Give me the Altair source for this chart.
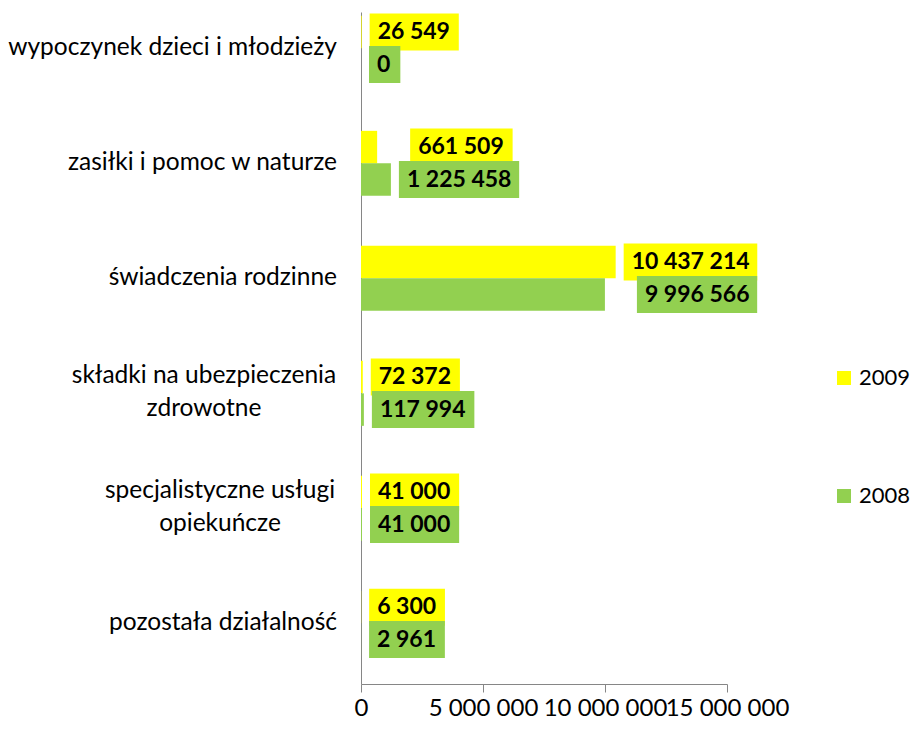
import altair as alt
import pandas as pd

categories = [
    "wypoczynek dzieci i młodzieży",
    "zasiłki i pomoc w naturze",
    "świadczenia rodzinne",
    "składki na ubezpieczenia\nzdrowotne",
    "specjalistyczne usługi\nopiekuńcze",
    "pozostała działalność",
]
years = ["2009", "2008"]
values_2009 = [26549, 661509, 10437214, 72372, 41000, 6300]
values_2008 = [0, 1225458, 9996566, 117994, 41000, 2961]
colors = ["#FFFF00", "#92D050"]

# layout constants
W, H = 366, 672
XMAX = 15_000_000
UPP = XMAX / W          # data units per pixel
FS = 23                 # data label font size
CFS = 24.5              # category font size
LABEL_OFF = {("zasiłki i pomoc w naturze", "2009"): 33,
             ("świadczenia rodzinne", "2008"): 32}
DEFAULT_OFF = 8
MULTI_X = {"składki na ubezpieczenia\nzdrowotne": -157,
           "specjalistyczne usługi\nopiekuńcze": -141}


def fmt(v):
    return f"{v:,}".replace(",", " ")


def text_w(s):
    return sum(0.58 * FS if c.isdigit() else 0.193 * FS for c in s)


rows = []
for y, vals in zip(years, [values_2009, values_2008]):
    for c, v in zip(categories, vals):
        lab = fmt(v)
        off = LABEL_OFF.get((c, y), DEFAULT_OFF)
        start = v + off * UPP
        end = start + (text_w(lab) + 18) * UPP
        rows.append(dict(cat=c, year=y, value=v, label=lab, start=start, end=end))
df = pd.DataFrame(rows)

cat_df = pd.DataFrame({"cat": categories,
                       "multi": ["\n" in c for c in categories],
                       "cx": [MULTI_X.get(c, 0) for c in categories]})

yscale = alt.Scale(domain=categories, paddingInner=0.435, paddingOuter=0.139, align=0.12)
yenc = alt.Y("cat:N", sort=categories, scale=yscale,
             axis=alt.Axis(labels=False, ticks=False, title=None,
                           domainColor="#868686", domainWidth=1))
yoff = alt.YOffset("year:N", sort=years)
color = alt.Color("year:N", scale=alt.Scale(domain=years, range=colors),
                  legend=alt.Legend(title=None, orient="none", legendX=472, legendY=355,
                                    symbolType="square", symbolSize=196,
                                    symbolStrokeWidth=0, rowPadding=96,
                                    labelFontSize=22, labelFont="Lato",
                                    labelColor="black", labelOffset=4))
xenc = alt.X("value:Q", scale=alt.Scale(domain=[0, XMAX], nice=False),
             axis=alt.Axis(values=[0, 5_000_000, 10_000_000, 15_000_000],
                           labelExpr="join(split(format(datum.value, ','), ','), ' ')",
                           tickSize=8, domainColor="#868686", tickColor="#868686",
                           labelPadding=4, labelFontSize=24, labelFont="Lato",
                           labelColor="black", grid=False, title=None,
                           labelOverlap=False, labelFlush=False))

ysub = alt.Y("cat:N", sort=categories, scale=yscale)
base = alt.Chart(df)
bars = base.mark_bar().encode(y=yenc, yOffset=yoff, x=xenc, color=color)
boxes = base.mark_bar(size=37).encode(
    y=ysub, yOffset=yoff,
    x=alt.X("start:Q"), x2="end:Q",
    color=alt.Color("year:N", legend=None))
texts = base.mark_text(align="left", baseline="middle", dx=8, font="Lato",
                       fontWeight="bold", fontSize=FS, color="black").encode(
    y=ysub, yOffset=yoff,
    x=alt.X("start:Q"), text="label:N")

cat_base = alt.Chart(cat_df)
cat_single = cat_base.transform_filter("!datum.multi").mark_text(
    align="right", baseline="middle", font="Lato", fontSize=CFS, color="black"
).encode(y=ysub, x=alt.value(-24), text="cat:N")
cat_multi = cat_base.transform_filter("datum.multi").mark_text(
    align="center", baseline="middle", font="Lato", fontSize=CFS, color="black",
    lineBreak="\n", lineHeight=33, dy=-17
).encode(y=ysub, x=alt.X("cx:Q", scale=None), text="cat:N")

chart = alt.layer(bars, boxes, texts, cat_single, cat_multi).properties(
    width=W, height=H, background="white",
    padding={"top": 4, "left": 0, "right": 0, "bottom": 0}
).configure_view(stroke=None)

chart.save("out.html", embed_options={"renderer": "svg", "actions": False})
